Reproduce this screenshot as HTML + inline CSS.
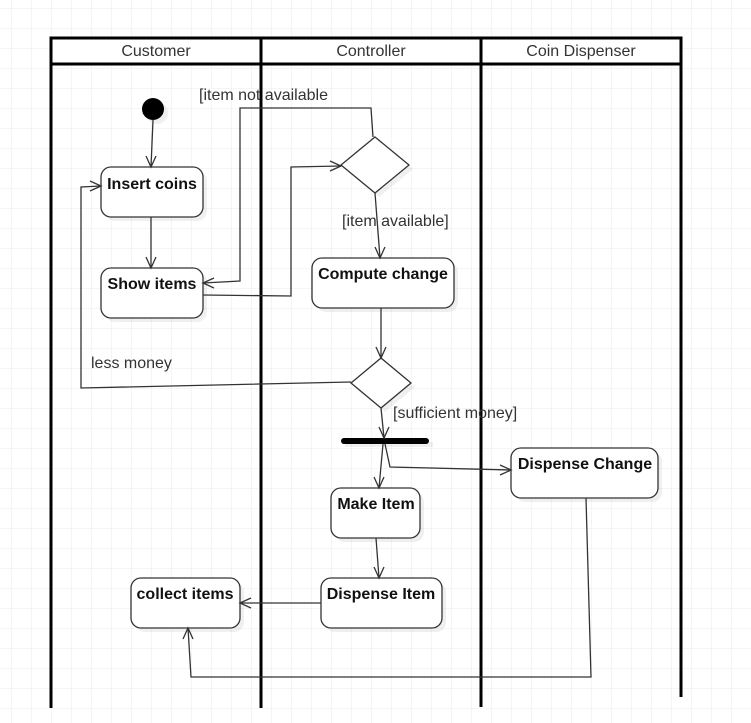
<!DOCTYPE html>
<html><head><meta charset="utf-8"><style>
html,body{margin:0;padding:0;background:#fff;}
svg{display:block;}
text{font-family:"Liberation Sans",Arial,sans-serif;}
</style></head><body>
<svg width="751" height="723" viewBox="0 0 751 723" xmlns="http://www.w3.org/2000/svg">
<defs>
<pattern id="g" x="11" y="8" width="20" height="20" patternUnits="userSpaceOnUse">
<path d="M0 0H20M0 0V20" stroke="#ebebeb" stroke-width="1" fill="none"/>
</pattern>
</defs>
<rect width="751" height="723" fill="#fff"/>
<rect width="751" height="723" fill="url(#g)"/>
<g stroke="#000" stroke-width="3" fill="none">
<rect x="51" y="38" width="630" height="26" fill="#fff"/>
<line x1="51" y1="38" x2="51" y2="708"/>
<line x1="261" y1="38" x2="261" y2="708"/>
<line x1="481" y1="38" x2="481" y2="707"/>
<line x1="681" y1="38" x2="681" y2="697"/>
</g>
<g font-size="16" fill="#333" text-anchor="middle">
<text x="156" y="56">Customer</text>
<text x="371" y="56">Controller</text>
<text x="581" y="56">Coin Dispenser</text>
</g>
<g fill="#000" opacity="0.06">
<circle cx="157" cy="113" r="11"/>
<rect x="105" y="171" width="102" height="50" rx="10"/>
<rect x="105" y="272" width="102" height="50" rx="10"/>
<rect x="316" y="262" width="142" height="50" rx="10"/>
<rect x="335" y="492" width="89" height="50" rx="10"/>
<rect x="325" y="582" width="121" height="50" rx="10"/>
<rect x="135" y="582" width="109" height="50" rx="10"/>
<rect x="515" y="452" width="147" height="50" rx="10"/>
<polygon points="379,141 413,169 379,197 345,169"/>
<polygon points="385,362 415,387 385,412 355,387"/>
<rect x="345" y="442" width="88" height="5"/>
</g>
<circle cx="153" cy="109" r="11" fill="#000"/>
<g fill="#fff" stroke="#333" stroke-width="1.3">
<rect x="101" y="167" width="102" height="50" rx="10"/>
<rect x="101" y="268" width="102" height="50" rx="10"/>
<rect x="312" y="258" width="142" height="50" rx="10"/>
<rect x="331" y="488" width="89" height="50" rx="10"/>
<rect x="321" y="578" width="121" height="50" rx="10"/>
<rect x="131" y="578" width="109" height="50" rx="10"/>
<rect x="511" y="448" width="147" height="50" rx="10"/>
<polygon points="375,137 409,165 375,193 341,165"/>
<polygon points="381,358 411,383 381,408 351,383"/>
</g>
<rect x="341" y="438" width="88" height="6" rx="3" fill="#000"/>
<g font-size="16" font-weight="bold" fill="#111" text-anchor="middle">
<text x="152" y="189">Insert coins</text>
<text x="152" y="289">Show items</text>
<text x="383" y="279">Compute change</text>
<text x="376" y="509">Make Item</text>
<text x="381" y="599">Dispense Item</text>
<text x="185" y="599">collect items</text>
<text x="585" y="469">Dispense Change</text>
</g>
<g stroke="#333" stroke-width="1.3" fill="none">
<path d="M153 120 L151 167"/>
<path d="M151 217 L151 268"/>
<path d="M203 295 L291 296 L291 167 L341 166"/>
<path d="M373 137 L371 108 L240 108 L240 281 L203 283"/>
<path d="M375 193 L380 258"/>
<path d="M381 308 L381 358"/>
<path d="M351 382 L81 388 L81 187 L101 186"/>
<path d="M381 408 L384 438"/>
<path d="M383 444 L379 488"/>
<path d="M385 444 L390 467 L511 470"/>
<path d="M376 538 L379 578"/>
<path d="M321 603 L240 603"/>
<path d="M586 498 L591 677 L191 677 L188 628"/>
<path d="M146 156 L151 167 L156 156"/>
<path d="M146 257 L151 268 L156 257"/>
<path d="M330 161 L341 166 L330 171"/>
<path d="M214 278 L203 283 L214 288"/>
<path d="M375 247 L380 258 L385 247"/>
<path d="M376 347 L381 358 L386 347"/>
<path d="M90 181 L101 186 L90 191"/>
<path d="M379 427 L384 438 L389 427"/>
<path d="M374 477 L379 488 L384 477"/>
<path d="M500 465 L511 470 L500 475"/>
<path d="M374 567 L379 578 L384 567"/>
<path d="M251 598 L240 603 L251 608"/>
<path d="M183 639 L188 628 L193 639"/>
</g>
<g font-size="16" fill="#333">
<text x="199" y="100">[item not available</text>
<text x="342" y="226">[item available]</text>
<text x="91" y="368">less money</text>
<text x="393" y="418">[sufficient money]</text>
</g>
</svg>
</body></html>
